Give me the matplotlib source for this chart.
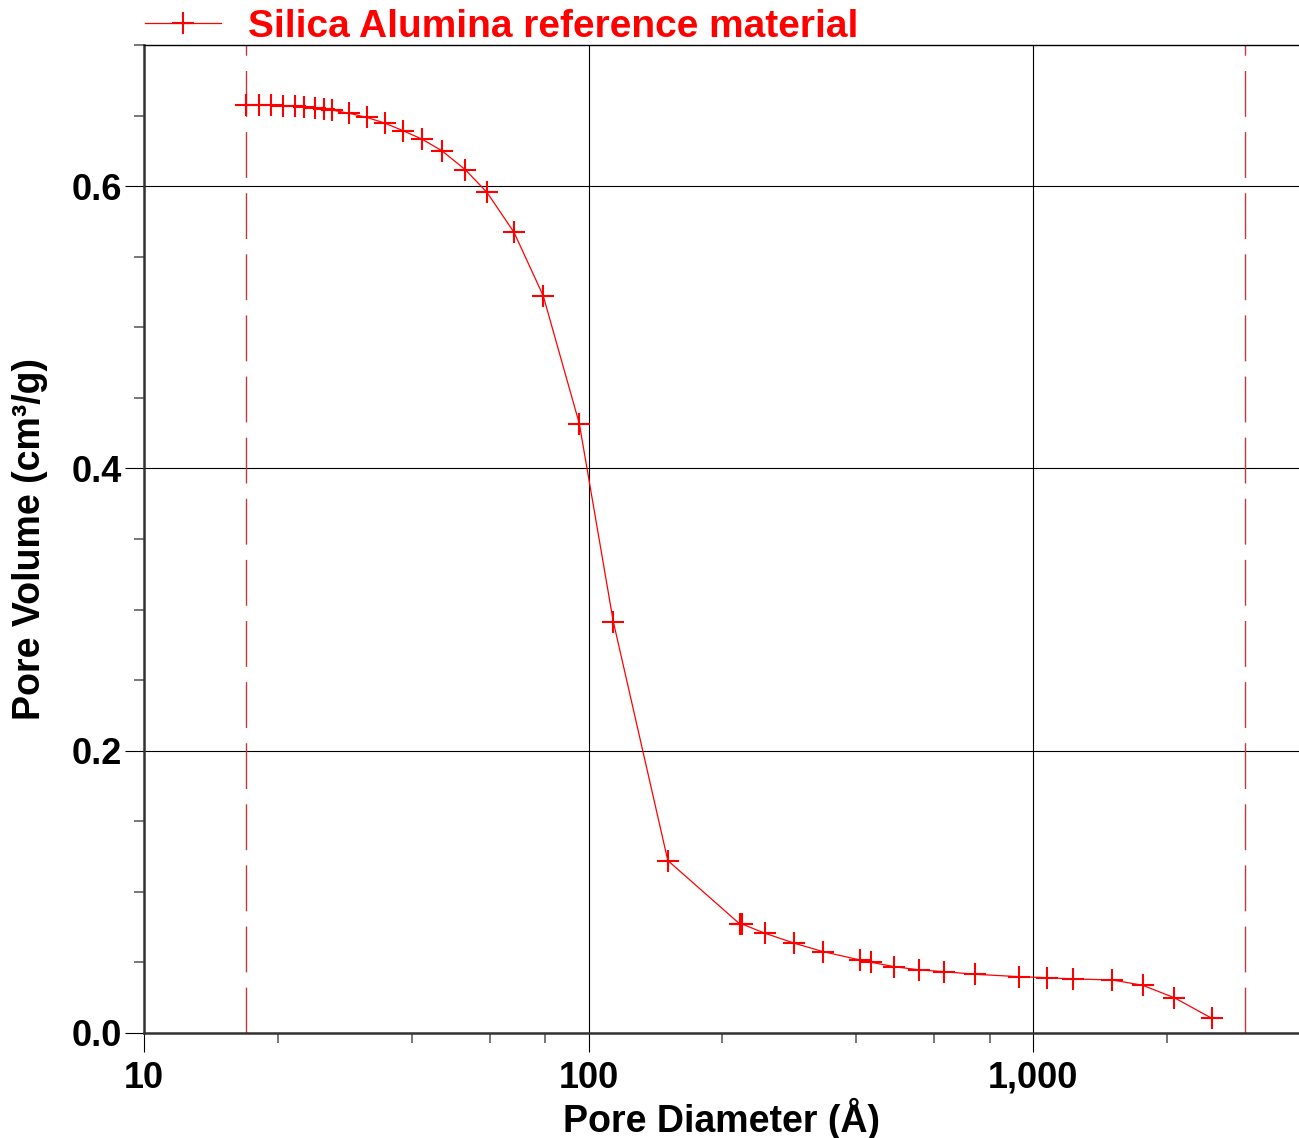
import matplotlib

matplotlib.use("Agg")
import matplotlib.pyplot as plt
from matplotlib.ticker import FixedLocator, MultipleLocator, FuncFormatter

plt.rcParams["font.family"] = ["Liberation Sans", "DejaVu Sans"]
plt.rcParams["font.weight"] = "bold"

# pore diameter (A) and cumulative pore volume (cm3/g)
diameter = [
    16.96, 18.11, 19.31, 20.51, 21.83, 22.94, 24.29, 25.44, 26.48, 28.96,
    31.70, 34.79, 38.19, 42.22, 46.82, 52.80, 59.06, 68.00, 79.11, 95.35,
    113.7, 150.8, 219.2, 221.8, 249.3, 290.5, 336.6, 407.1, 430.9, 487.3,
    555.0, 629.0, 741.1, 931.1, 1075, 1232, 1506, 1765, 2079, 2525,
]
volume = [
    0.6574, 0.6574, 0.6574, 0.6570, 0.6565, 0.6558, 0.6551, 0.6546, 0.6539, 0.6516,
    0.6487, 0.6447, 0.6394, 0.6333, 0.6250, 0.6117, 0.5957, 0.5672, 0.5222, 0.4317,
    0.2915, 0.1222, 0.0771, 0.0771, 0.0707, 0.0636, 0.0577, 0.0518, 0.0502, 0.0470,
    0.0447, 0.0435, 0.0416, 0.0399, 0.0392, 0.0383, 0.0376, 0.0338, 0.0250, 0.0104,
]
range_limits = [16.96, 3000]
series_label = "Silica Alumina reference material"

fig = plt.figure(figsize=(12.99, 11.38), dpi=100)
ax = fig.add_axes([144 / 1299, 1 - 1033 / 1138, 1 - 144 / 1299, 988 / 1138])

ax.set_xscale("log")
ax.set_xlim(10, 3966)
ax.set_ylim(0, 0.7)

# calculation range markers
for xv in range_limits:
    ax.axvline(xv, color="#c03a3c", lw=1.0, dashes=(33, 11), zorder=2)

ax.plot(diameter, volume, color="red", lw=0.9, marker="+", ms=15.5, mew=1.5,
        label=series_label, zorder=3)

# ticks
ax.xaxis.set_major_locator(FixedLocator([10, 100, 1000]))
ax.xaxis.set_minor_locator(FixedLocator([20, 40, 60, 80, 200, 400, 600, 800, 2000]))
ax.xaxis.set_major_formatter(FuncFormatter(lambda v, p: f"{v:,.0f}"))
ax.xaxis.set_minor_formatter(FuncFormatter(lambda v, p: ""))
ax.yaxis.set_major_locator(MultipleLocator(0.2))
ax.yaxis.set_minor_locator(MultipleLocator(0.05))
ax.yaxis.set_major_formatter(FuncFormatter(lambda v, p: f"{v:.1f}"))

ax.tick_params(axis="both", which="major", direction="out", length=14, width=0.8,
               color="black", labelsize=26)
ax.tick_params(axis="both", which="minor", direction="out", length=7.5, width=1.2,
               color="#606060")
ax.tick_params(axis="x", which="major", pad=6)
ax.tick_params(axis="y", which="major", pad=1.5)
for lab in ax.get_xticklabels() + ax.get_yticklabels():
    lab.set_fontweight("bold")

ax.grid(True, which="major", color="black", lw=0.8)
ax.set_axisbelow(True)

for side in ["left", "bottom"]:
    ax.spines[side].set_linewidth(1.8)
    ax.spines[side].set_color("#333333")
ax.spines["top"].set_linewidth(1.0)
ax.spines["right"].set_visible(False)

ax.set_xlabel("Pore Diameter (Å)", fontsize=27, fontweight="bold", va="top")
ax.xaxis.set_label_coords(0.5, -0.066)
ax.set_ylabel("Pore Volume (cm³/g)", fontsize=27, fontweight="bold")
ax.yaxis.set_label_coords(-0.083, 0.5)

leg = fig.legend(loc="center left", bbox_to_anchor=(145 / 1299, 1 - 27 / 1138),
                 frameon=False, borderpad=0, borderaxespad=0, handlelength=1.95,
                 handletextpad=0.7, prop={"size": 28, "weight": "bold"})
for t in leg.get_texts():
    t.set_color("red")

fig.savefig("out.png", dpi=100, facecolor="white")
